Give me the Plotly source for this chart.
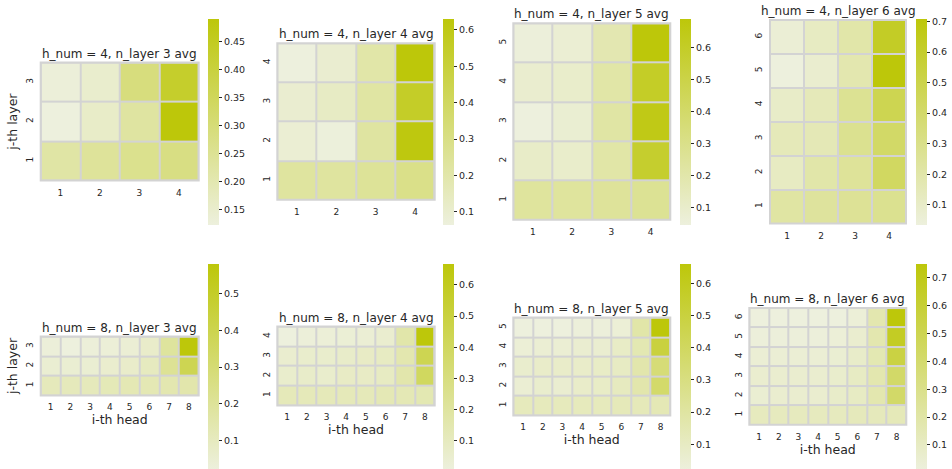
import plotly.graph_objects as go

# Average attention share per head (columns) for each layer (rows, layer 1 first)
heads_4 = [1, 2, 3, 4]
heads_8 = [1, 2, 3, 4, 5, 6, 7, 8]

h4_l3 = [
    [0.22, 0.24, 0.26, 0.28],
    [0.123, 0.16, 0.227, 0.49],
    [0.13, 0.15, 0.29, 0.43],
]
h4_l4 = [
    [0.23, 0.23, 0.25, 0.29],
    [0.09, 0.07, 0.224, 0.616],
    [0.10, 0.13, 0.22, 0.55],
    [0.064, 0.10, 0.206, 0.63],
]
h4_l5 = [
    [0.24, 0.24, 0.25, 0.27],
    [0.11, 0.10, 0.21, 0.58],
    [0.046, 0.08, 0.22, 0.654],
    [0.09, 0.10, 0.21, 0.60],
    [0.055, 0.075, 0.18, 0.69],
]
h4_l6 = [
    [0.22, 0.24, 0.26, 0.28],
    [0.12, 0.20, 0.25, 0.43],
    [0.15, 0.16, 0.28, 0.41],
    [0.10, 0.15, 0.27, 0.48],
    [0.034, 0.08, 0.18, 0.708],
    [0.06, 0.12, 0.20, 0.62],
]
h8_l3 = [
    [0.11, 0.11, 0.11, 0.12, 0.13, 0.13, 0.14, 0.15],
    [0.05, 0.05, 0.05, 0.06, 0.07, 0.10, 0.21, 0.39],
    [0.03, 0.02, 0.03, 0.035, 0.045, 0.07, 0.19, 0.58],
]
h8_l4 = [
    [0.12, 0.12, 0.12, 0.12, 0.12, 0.13, 0.13, 0.14],
    [0.06, 0.07, 0.06, 0.08, 0.08, 0.09, 0.16, 0.40],
    [0.05, 0.06, 0.06, 0.07, 0.08, 0.09, 0.15, 0.44],
    [0.006, 0.02, 0.025, 0.03, 0.035, 0.05, 0.167, 0.667],
]
h8_l5 = [
    [0.12, 0.12, 0.12, 0.12, 0.12, 0.13, 0.13, 0.14],
    [0.05, 0.07, 0.06, 0.08, 0.09, 0.11, 0.17, 0.37],
    [0.07, 0.08, 0.08, 0.08, 0.09, 0.10, 0.17, 0.33],
    [0.04, 0.05, 0.05, 0.06, 0.06, 0.09, 0.15, 0.50],
    [0.02, 0.02, 0.02, 0.03, 0.03, 0.04, 0.18, 0.66],
]
h8_l6 = [
    [0.12, 0.12, 0.12, 0.12, 0.12, 0.13, 0.13, 0.14],
    [0.05, 0.06, 0.06, 0.06, 0.08, 0.10, 0.17, 0.42],
    [0.06, 0.06, 0.06, 0.06, 0.07, 0.10, 0.17, 0.42],
    [0.04, 0.04, 0.04, 0.04, 0.05, 0.08, 0.16, 0.55],
    [0.02, 0.02, 0.02, 0.02, 0.03, 0.06, 0.17, 0.66],
    [0.01, 0.01, 0.01, 0.01, 0.01, 0.03, 0.17, 0.75],
]

W, H = 952, 469
TXT = "#262626"
FONT = "DejaVu Sans"
GRID = "#d3d3d3"
SCALE = [[0.0, "rgb(237,240,221)"], [1.0, "rgb(189,199,10)"]]

# (z, heads, title, heatmap box [x0, x1, ytop, ybot], colorbar [x, ytop, ybot], dtick, format)
panels = [
    (h4_l3, heads_4, "h_num = 4, n_layer 3 avg", (40.7, 198.7, 62.7, 181.0), (208, 19, 225), 0.05, ".2f"),
    (h4_l4, heads_4, "h_num = 4, n_layer 4 avg", (277.3, 434.7, 43.3, 200.3), (443, 19, 225), 0.1, ".1f"),
    (h4_l5, heads_4, "h_num = 4, n_layer 5 avg", (513.3, 670.3, 23.3, 220.3), (680, 19, 225), 0.1, ".1f"),
    (h4_l6, heads_4, "h_num = 4, n_layer 6 avg", (770.0, 906.0, 20.0, 224.0), (916, 19, 225), 0.1, ".1f"),
    (h8_l3, heads_8, "h_num = 8, n_layer 3 avg", (40.7, 198.7, 337.3, 396.3), (208, 264, 470), 0.1, ".1f"),
    (h8_l4, heads_8, "h_num = 8, n_layer 4 avg", (277.3, 434.7, 327.3, 406.3), (443, 264, 470), 0.1, ".1f"),
    (h8_l5, heads_8, "h_num = 8, n_layer 5 avg", (513.3, 670.3, 318.3, 416.3), (680, 264, 470), 0.1, ".1f"),
    (h8_l6, heads_8, "h_num = 8, n_layer 6 avg", (749.3, 906.3, 308.7, 425.7), (916, 264, 470), 0.1, ".1f"),
]

fig = go.Figure()
layout = {}
shapes = []
annotations = []

for i, (z, heads, title, box, cb, dtick, fmt) in enumerate(panels, start=1):
    x0, x1, yt, yb = box
    layers = list(range(1, len(z) + 1))
    xa = "x" if i == 1 else f"x{i}"
    ya = "y" if i == 1 else f"y{i}"
    cbx, cbt, cbb = cb
    fig.add_trace(go.Heatmap(
        z=z, x=heads, y=layers, xaxis=xa, yaxis=ya,
        colorscale=SCALE, xgap=2, ygap=2,
        hoverongaps=False,
        colorbar=dict(
            x=cbx / W, xanchor="left", xpad=0,
            y=1 - (cbt + cbb) / 2 / H, yanchor="middle", ypad=0,
            len=cbb - cbt, lenmode="pixels",
            thickness=11, thicknessmode="pixels",
            outlinewidth=0,
            ticks="outside", ticklen=3.5, tickwidth=1, tickcolor=TXT,
            tick0=0, dtick=dtick, tickformat=fmt,
            tickfont=dict(family=FONT, size=9.5, color=TXT),
        ),
    ))
    axis_font = dict(family=FONT, size=9, color=TXT)
    layout[f"xaxis{i}"] = dict(
        domain=[x0 / W, x1 / W], anchor=ya, range=[0.5, len(heads) + 0.5],
        tickmode="array", tickvals=heads, ticktext=[str(h) for h in heads],
        showgrid=False, zeroline=False, showline=False, ticks="",
        tickfont=axis_font, ticklabelstandoff=5, fixedrange=True,
        title=dict(text="i-th head" if i > 4 else "",
                   font=dict(family=FONT, size=12.5, color=TXT), standoff=2),
    )
    layout[f"yaxis{i}"] = dict(
        domain=[1 - yb / H, 1 - yt / H], anchor=xa, range=[0.5, len(layers) + 0.5],
        tickmode="array", tickvals=layers, ticktext=[str(l) for l in layers],
        showgrid=False, zeroline=False, showline=False, ticks="",
        tickangle=-90, tickfont=axis_font, ticklabelstandoff=5, fixedrange=True,
        title=dict(text="j-th layer" if i in (1, 5) else "",
                   font=dict(family=FONT, size=12.5, color=TXT), standoff=4),
    )
    shapes.append(dict(type="rect", xref=f"{xa} domain", yref=f"{ya} domain",
                       x0=0, x1=1, y0=0, y1=1, line=dict(color=GRID, width=2)))
    annotations.append(dict(text=title, xref=f"{xa} domain", yref=f"{ya} domain",
                            x=0.5, y=1, xanchor="center", yanchor="bottom", yshift=0,
                            showarrow=False, font=dict(family=FONT, size=12, color=TXT)))

fig.update_layout(
    width=W, height=H, margin=dict(l=0, r=0, t=0, b=0),
    paper_bgcolor="white", plot_bgcolor=GRID,
    shapes=shapes, annotations=annotations, showlegend=False,
    **layout,
)

fig.write_html("out.html")
